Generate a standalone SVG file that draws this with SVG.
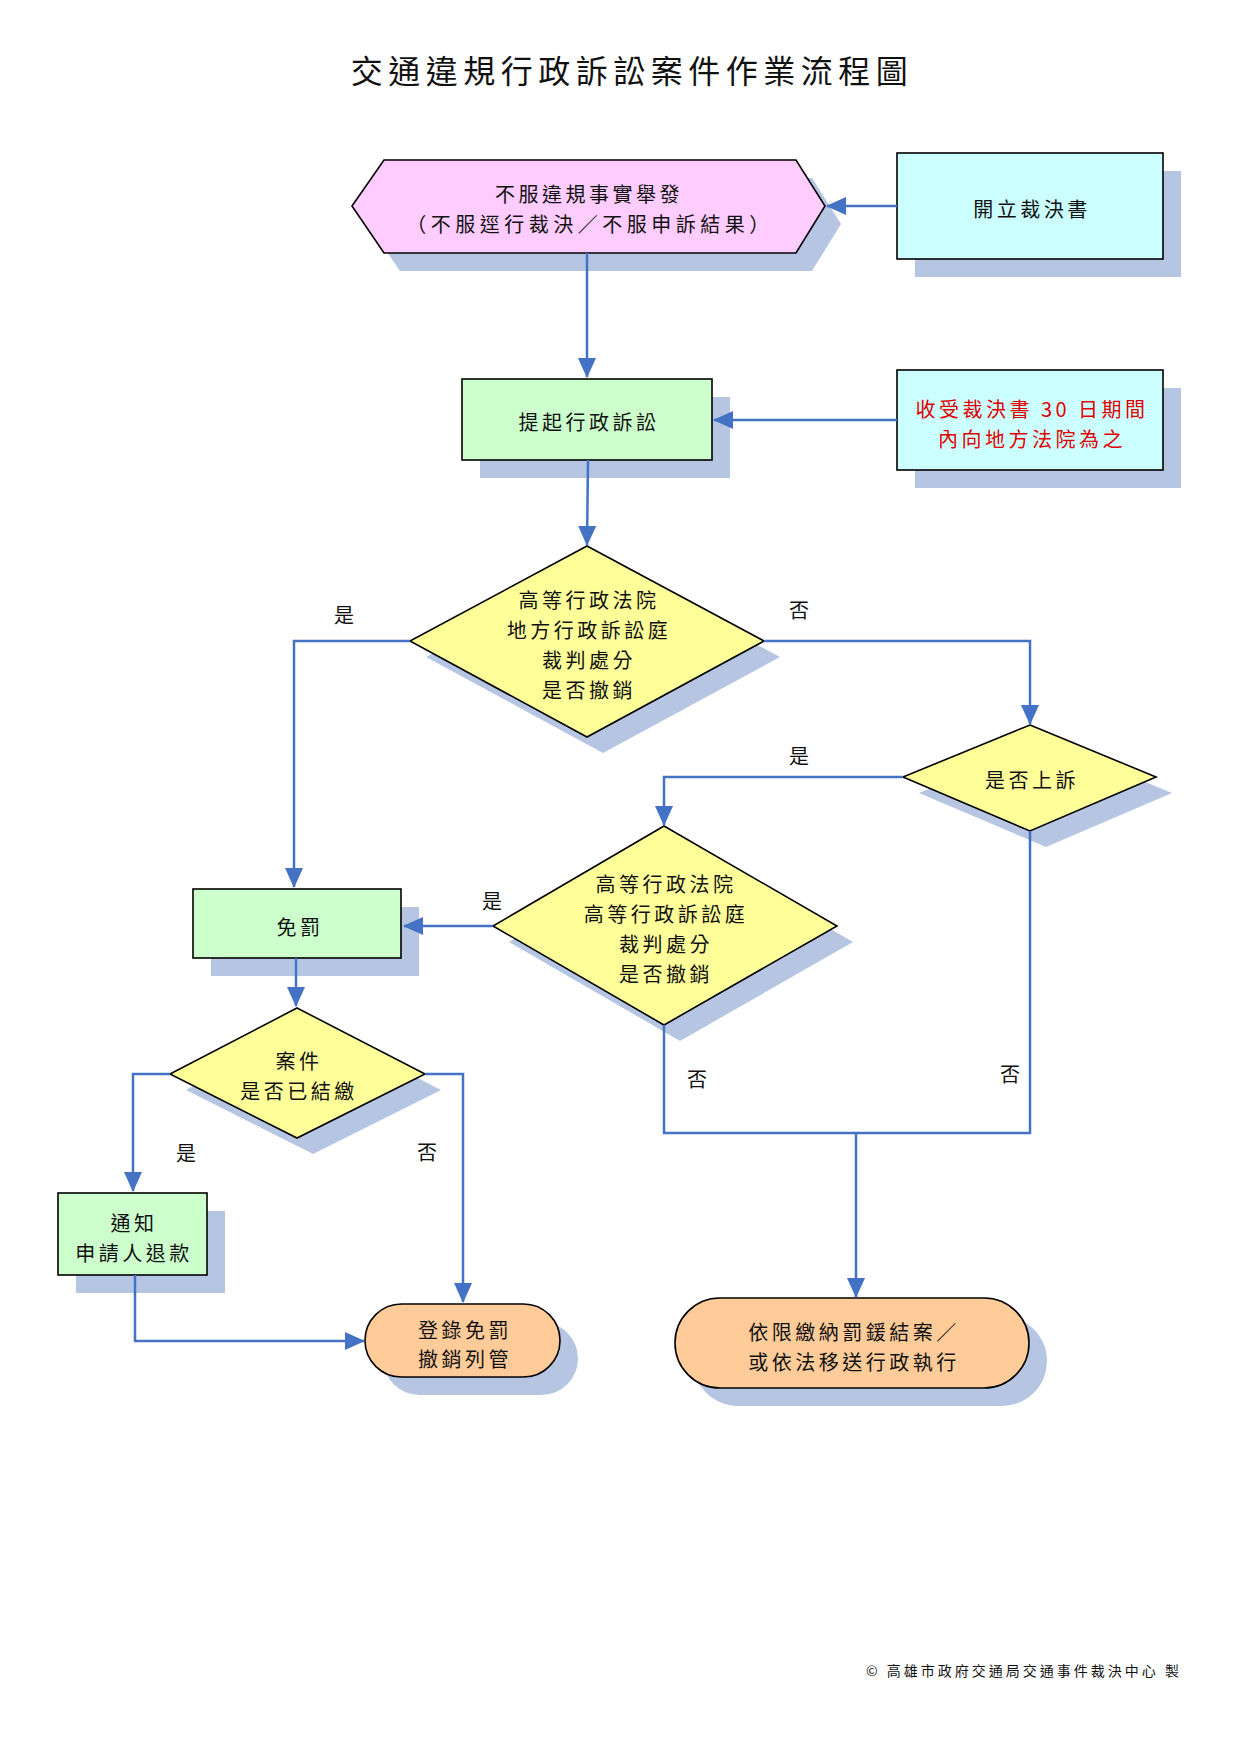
<svg xmlns="http://www.w3.org/2000/svg" width="1240" height="1754" viewBox="0 0 1240 1754">
<style>
  .t{font-family:"Noto Sans CJK TC","Noto Sans CJK SC",sans-serif;font-size:20px;fill:#111;text-anchor:middle;dominant-baseline:central;letter-spacing:3.5px}
  .red{fill:#E00000}
  .shadow{fill:#B6C6E2;stroke:none}
  .nd{stroke:#000;stroke-width:1.6}
  .pink{fill:#FFCCFF}
  .cyan{fill:#CCFFFF}
  .green{fill:#CCFFCC}
  .yellow{fill:#FFFF99}
  .orange{fill:#FFCC99}
  .c{fill:none;stroke:#4472C4;stroke-width:2.5}
  .ca{fill:none;stroke:#4472C4;stroke-width:2.5;marker-end:url(#ah)}
  .lab{font-family:"Noto Sans CJK TC","Noto Sans CJK SC",sans-serif;font-size:20px;fill:#111;text-anchor:middle;dominant-baseline:central}
</style>
<defs>
  <marker id="ah" markerUnits="userSpaceOnUse" markerWidth="20" markerHeight="18" refX="19" refY="9" orient="auto">
    <path d="M0,0 L20,9 L0,18 z" fill="#4472C4"/>
  </marker>
</defs>
<rect width="1240" height="1754" fill="#fff"/>

<text x="632" y="69" class="t" style="font-size:32px;letter-spacing:5.5px">交通違規行政訴訟案件作業流程圖</text>

<g id="n1">
  <polygon class="shadow" points="368,224 400,178 812,178 841,224 812,271 400,271"/>
  <polygon class="nd pink" points="352,206 384,160 796,160 825,206 796,253 384,253"/>
  <text x="589" y="193" class="t">不服違規事實舉發</text>
  <text x="590" y="223" class="t" style="letter-spacing:4.5px">（不服逕行裁決／不服申訴結果）</text>
</g>

<g id="n2">
  <rect class="shadow" x="915" y="171" width="266" height="106"/>
  <rect class="nd cyan" x="897" y="153" width="266" height="106"/>
  <text x="1032" y="208" class="t">開立裁決書</text>
</g>

<g id="n3">
  <rect class="shadow" x="480" y="397" width="250" height="81"/>
  <rect class="nd green" x="462" y="379" width="250" height="81"/>
  <text x="589" y="421" class="t">提起行政訴訟</text>
</g>

<g id="n4">
  <rect class="shadow" x="915" y="388" width="266" height="100"/>
  <rect class="nd cyan" x="897" y="370" width="266" height="100"/>
  <text x="1032" y="408" class="t red">收受裁決書 30 日期間</text>
  <text x="1032" y="438" class="t red">內向地方法院為之</text>
</g>

<g id="n5">
  <polygon class="shadow" points="603,562 780,657 603,753 426,657"/>
  <polygon class="nd yellow" points="587,546 764,641 587,737 410,641"/>
  <text x="589" y="599" class="t">高等行政法院</text>
  <text x="589" y="629" class="t">地方行政訴訟庭</text>
  <text x="589" y="659" class="t">裁判處分</text>
  <text x="589" y="689" class="t">是否撤銷</text>
</g>

<g id="n6">
  <polygon class="shadow" points="1046,741 1172,793 1046,847 919,793"/>
  <polygon class="nd yellow" points="1030,725 1156,777 1030,831 903,777"/>
  <text x="1032" y="779" class="t">是否上訴</text>
</g>

<g id="n7">
  <polygon class="shadow" points="680,842 853,942 680,1041 509,942"/>
  <polygon class="nd yellow" points="664,826 837,926 664,1025 493,926"/>
  <text x="666" y="883" class="t">高等行政法院</text>
  <text x="666" y="913" class="t">高等行政訴訟庭</text>
  <text x="666" y="943" class="t">裁判處分</text>
  <text x="666" y="973" class="t">是否撤銷</text>
</g>

<g id="n8">
  <rect class="shadow" x="211" y="907" width="208" height="69"/>
  <rect class="nd green" x="193" y="889" width="208" height="69"/>
  <text x="300" y="926" class="t">免罰</text>
</g>

<g id="n9">
  <polygon class="shadow" points="313,1024 441,1090 313,1154 186,1090"/>
  <polygon class="nd yellow" points="297,1008 425,1074 297,1138 170,1074"/>
  <text x="299" y="1060" class="t">案件</text>
  <text x="299" y="1090" class="t">是否已結繳</text>
</g>

<g id="n10">
  <rect class="shadow" x="76" y="1211" width="149" height="82"/>
  <rect class="nd green" x="58" y="1193" width="149" height="82"/>
  <text x="134" y="1222" class="t">通知</text>
  <text x="134" y="1252" class="t">申請人退款</text>
</g>

<g id="n11">
  <rect class="shadow" x="383" y="1322" width="195" height="73" rx="36.5"/>
  <rect class="nd orange" x="365" y="1304" width="195" height="73" rx="36.5"/>
  <text x="465" y="1329" class="t">登錄免罰</text>
  <text x="465" y="1358" class="t">撤銷列管</text>
</g>

<g id="n12">
  <rect class="shadow" x="693" y="1316" width="354" height="90" rx="45"/>
  <rect class="nd orange" x="675" y="1298" width="354" height="90" rx="45"/>
  <text x="854" y="1331" class="t">依限繳納罰鍰結案／</text>
  <text x="854" y="1361" class="t">或依法移送行政執行</text>
</g>

<g id="connectors">
  <path class="ca" d="M897,206 L827,206"/>
  <path class="ca" d="M587,253 L587,377"/>
  <path class="ca" d="M897,420 L714,420"/>
  <path class="ca" d="M588,460 L587,545"/>
  <path class="ca" d="M410,641 L294,641 L294,887"/>
  <path class="ca" d="M764,641 L1030,641 L1030,724"/>
  <path class="ca" d="M903,777 L664,777 L664,825"/>
  <path class="ca" d="M493,926 L404,926"/>
  <path class="ca" d="M296,958 L296,1006"/>
  <path class="ca" d="M170,1074 L133,1074 L133,1191"/>
  <path class="ca" d="M425,1074 L463,1074 L463,1302"/>
  <path class="ca" d="M135,1275 L135,1341 L364,1341"/>
  <path class="c" d="M664,1025 L664,1133 L1030,1133 L1030,831"/>
  <path class="ca" d="M856,1133 L856,1297"/>
  <text x="344" y="614" class="lab">是</text>
  <text x="799" y="609" class="lab">否</text>
  <text x="799" y="755" class="lab">是</text>
  <text x="492" y="900" class="lab">是</text>
  <text x="186" y="1152" class="lab red">是</text>
  <text x="427" y="1151" class="lab red">否</text>
  <text x="697" y="1078" class="lab">否</text>
  <text x="1010" y="1073" class="lab">否</text>
</g>

<text x="866" y="1670" class="t" style="font-size:14px;letter-spacing:3px;text-anchor:start">© 高雄市政府交通局交通事件裁決中心  製</text>
</svg>
